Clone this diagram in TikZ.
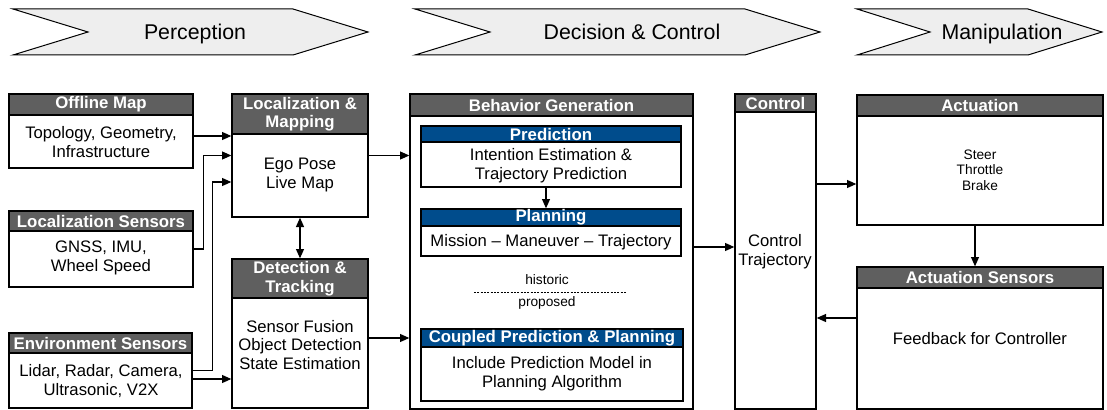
\documentclass[tikz,border=0pt]{standalone}
\usepackage{fontspec}
\setmainfont{Liberation Sans}
\usetikzlibrary{fit,calc,arrows.meta}
\definecolor{hdrgray}{RGB}{95,95,95}
\definecolor{hdrblue}{RGB}{0,76,140}
\definecolor{chev}{RGB}{238,238,238}
\newcommand\mkblock[8][hdr]{%
  \node[box, fit={(#3,#4)(#6,#7)}] (#2) {};
  \node[#1, fit={(#3,#4)(#6,#5)}] (#2h) {};
  \node[htxt] (#2t) at (#2h.center) {#8};
}
\begin{document}
\begin{tikzpicture}[x=0.75pt,y=-0.75pt,
  box/.style={draw, line width=1pt, inner sep=0pt, fill=white},
  hdr/.style={draw, line width=1pt, inner sep=0pt, fill=hdrgray},
  hdrb/.style={draw, line width=1pt, inner sep=0pt, fill=hdrblue},
  htxt/.style={text=white, font=\fontsize{12.6}{13.8}\selectfont\bfseries, align=center, inner sep=0pt},
  btxt/.style={font=\fontsize{12.5}{14.2}\selectfont, align=center, inner sep=0pt},
  stxt/.style={font=\fontsize{10.3}{11.5}\selectfont, align=center, inner sep=0pt},
  ctxt/.style={font=\fontsize{16}{18}\selectfont, inner sep=0pt, anchor=base},
  chevron/.style={draw, line width=0.75pt, fill=chev},
  arr/.style={line width=0.8pt, -{Triangle[length=7pt,width=6pt]}},
  darr/.style={line width=0.8pt, {Triangle[length=7pt,width=6pt]}-{Triangle[length=7pt,width=6pt]}},
]
\useasboundingbox (0,0) rectangle (1107,410);

% phase chevrons
\draw[chevron] (13,9) -- (293,9) -- (368,32) -- (293,55) -- (13,55) -- (88,32) -- cycle;
\draw[chevron] (415,9) -- (745,9) -- (820,32) -- (745,55) -- (415,55) -- (490,32) -- cycle;
\draw[chevron] (857,9) -- (1028,9) -- (1102,32) -- (1028,55) -- (857,55) -- (930,32) -- cycle;
\node[ctxt] (ph1) at (195,40) {Perception};
\node[ctxt] (ph2) at (632,40) {Decision \& Control};
\node[ctxt] (ph3) at (1002,40) {Manipulation};

% perception blocks
\mkblock{offl}{9}{94}{115}{193}{168}{Offline Map}
\node[btxt] (offlb) at (101,142) {Topology, Geometry,\\Infrastructure};
\mkblock{loc}{232}{94}{134}{368}{217}{Localization \&\\Mapping}
\node[btxt] (locb) at (300,175) {Ego Pose\\Live Map};
\mkblock{locs}{9}{211}{231}{193}{287}{Localization Sensors}
\node[btxt] (locsb) at (101,258) {GNSS, IMU,\\Wheel Speed};
\mkblock{envs}{9}{333}{353}{192}{408}{Environment Sensors}
\node[btxt] (envsb) at (101,381) {Lidar, Radar, Camera,\\Ultrasonic, V2X};
\mkblock{det}{232}{259}{298}{368}{408}{Detection \&\\Tracking}
\node[btxt] (detb) at (300,345) {Sensor Fusion\\Object Detection\\State Estimation};

% decision blocks
\mkblock{beh}{410}{94}{116}{693}{409}{Behavior Generation}
\mkblock[hdrb]{pred}{421}{126}{142}{681}{187}{Prediction}
\node[btxt] (predb) at (551,166) {Intention Estimation \&\\Trajectory Prediction};
\mkblock[hdrb]{plan}{421}{209}{226}{681}{256}{Planning}
\node[btxt] (planb) at (551,242) {Mission -- Maneuver -- Trajectory};
\node[stxt] (hist) at (547,280) {historic};
\draw[line width=0.6pt, dash pattern=on 1.6pt off 0.9pt] (474,292) -- (626,292);
\node[stxt] (prop) at (547,303) {proposed};
\mkblock[hdrb]{coup}{421}{329}{347}{683}{401}{Coupled Prediction \& Planning}
\node[btxt] (coupb) at (552,374) {Include Prediction Model in\\Planning Algorithm};
\mkblock{ctrl}{735}{94}{112}{816}{409}{Control}
\node[btxt] (ctrlb) at (775,252) {Control\\Trajectory};

% manipulation blocks
\mkblock{act}{857}{95}{116}{1103}{225}{Actuation}
\node[stxt] (actb) at (980,170) {Steer\\Throttle\\Brake};
\mkblock{acts}{857}{267}{288}{1103}{409}{Actuation Sensors}
\node[btxt] (actsb) at (980,339) {Feedback for Controller};

% connectors
\coordinate (a1) at ($(offl.east)+(0,5)$);
\draw[arr] (a1) -- (a1 -| loc.west);
\draw[arr] (locs.east) -- ++(10,0) |- (loc.west);
\draw[arr] (envs.east) -- ++(20,0) |- ($(loc.west)+(0,26.5)$);
\coordinate (a4) at ($(envs.east)+(0,8.5)$);
\draw[arr] (a4) -- (a4 -| det.west);
\draw[darr] (loc.south) -- (det.north);
\draw[arr] (loc.east) -- (loc.east -| beh.west);
\coordinate (a6) at ($(det.east)+(0,4.5)$);
\draw[arr] (a6) -- (a6 -| beh.west);
\coordinate (a7) at ($(pred.south)+(-5,0)$);
\draw[arr] (a7) -- (a7 |- plan.north);
\coordinate (a8) at ($(beh.east)+(0,-4.5)$);
\draw[arr] (a8) -- (a8 -| ctrl.west);
\coordinate (a9) at ($(act.west)+(0,24)$);
\draw[arr] (a9 -| ctrl.east) -- (a9);
\coordinate (a10) at ($(act.south)+(-5,0)$);
\draw[arr] (a10) -- (a10 |- acts.north);
\coordinate (a11) at ($(acts.west)+(0,-20)$);
\draw[arr] (a11) -- (a11 -| ctrl.east);
\end{tikzpicture}
\end{document}
